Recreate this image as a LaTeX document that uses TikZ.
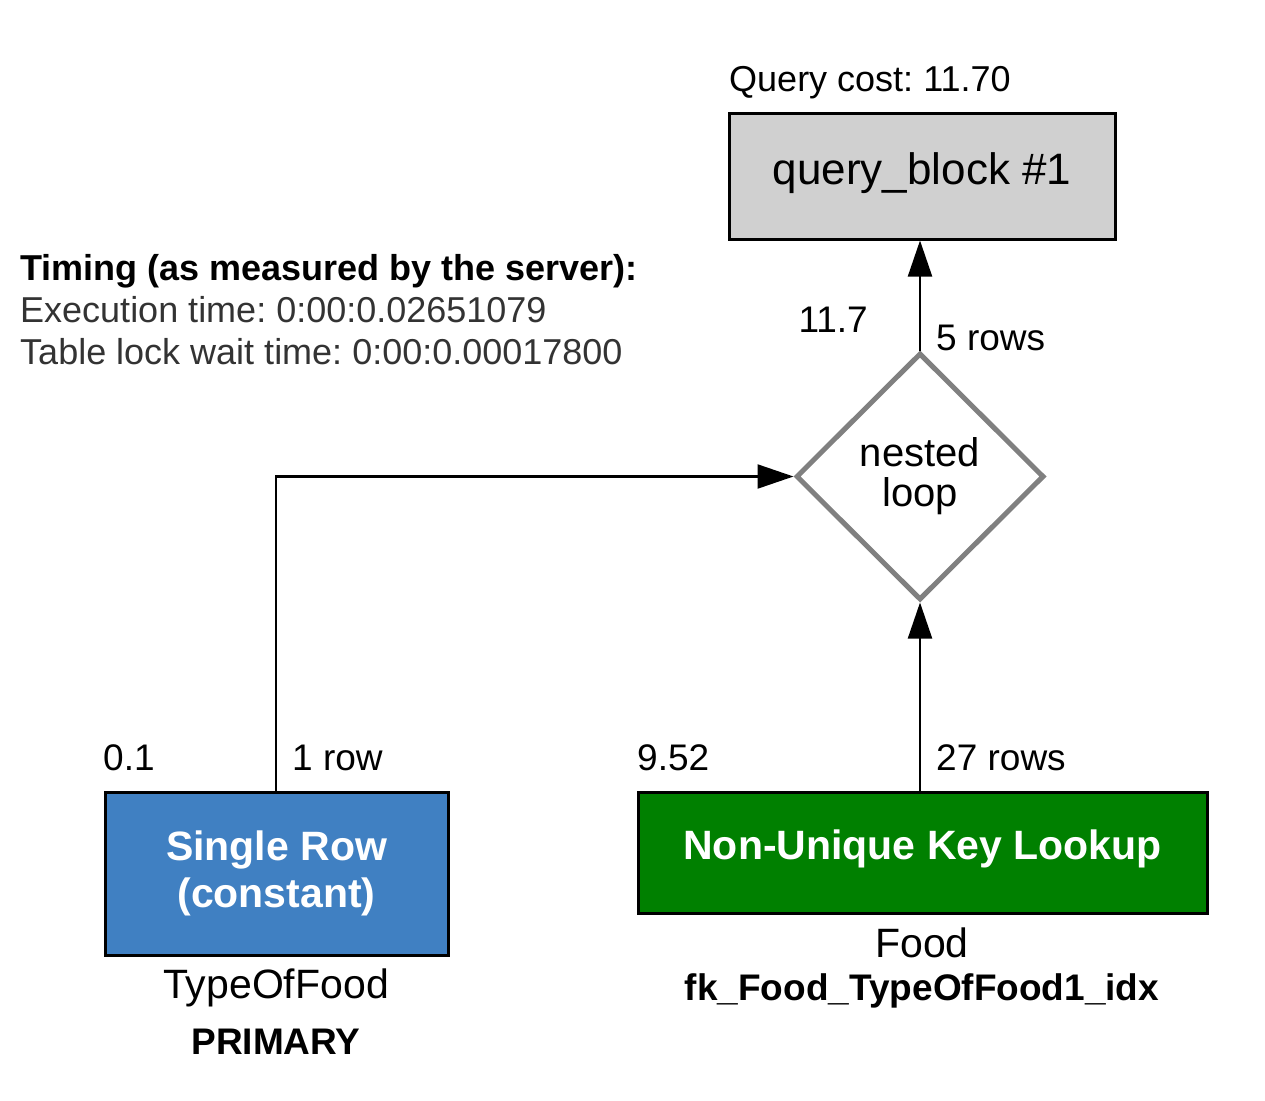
\documentclass[tikz,border=0pt]{standalone}
\usepackage{fontspec}
\setmainfont{Liberation Sans}
\frenchspacing
\usetikzlibrary{arrows.meta,shapes.geometric}
\newcommand{\pxfont}[1]{\fontsize{#1}{#1}\selectfont}
\tikzset{opbox/.style={draw=black,line width=3pt,inner sep=0pt,text=white,font=\pxfont{41}\bfseries,align=center}}
\tikzset{joinbox/.style={diamond,draw=loopgray,line width=5pt,inner sep=0pt,minimum width=248pt,minimum height=247pt,align=center,font=\pxfont{40}}}
\tikzset{conn/.style={line width=2.2pt,-{Triangle[length=36pt,width=24pt]}}}
\tikzset{lbl/.style={inner sep=0pt,font=\pxfont{37}}}
\definecolor{blockgray}{RGB}{208,208,208}
\definecolor{constblue}{RGB}{64,128,194}
\definecolor{refgreen}{RGB}{0,128,0}
\definecolor{loopgray}{RGB}{128,128,128}

\begin{document}
\begin{tikzpicture}[x=1pt,y=-1pt]
	    \useasboundingbox (0,0) rectangle (1265,1100);
	    % operations
	    \node[opbox,fill=blockgray,text=black,font=\pxfont{44},minimum width=386pt,minimum height=126pt] (qb) at (922,176) {\raisebox{14pt}{query\_block \#1}};
	    \node[joinbox] (nl) at (920,476.5) {nested\\[0pt]loop};
	    \node[opbox,fill=constblue,minimum width=343pt,minimum height=163pt] (sr) at (276.5,873.5) {Single Row\\[6pt](constant)};
	    \node[opbox,fill=refgreen,minimum width=569pt,minimum height=121pt] (nu) at (922.5,852.5) {\raisebox{16pt}{Non-Unique Key Lookup}};
	    % connectors
	    \draw[conn] (sr.north -| 276,0) |- (nl.west);
	    \draw[conn] (nl.south |- nu.north) -- (nl.south);
	    \draw[conn] (nl.north) -- (nl.north |- qb.south);
	    % costs and rows
	    \node[lbl,anchor=west] (cost) at (729,83) {\pxfont{36}Query cost: 11.70};
	    \node[lbl,anchor=east] (nlcost) at (868,320) {11.7};
	    \node[lbl,anchor=west] (nlrows) at (936,338) {5 rows};
	    \node[lbl,anchor=west] (srcost) at (103,758) {0.1};
	    \node[lbl,anchor=west] (srrows) at (292,758) {1 row};
	    \node[lbl,anchor=west] (nucost) at (637,758) {9.52};
	    \node[lbl,anchor=west] (nurows) at (936,758) {27 rows};
	    % tables and keys
	    \node[lbl,font=\pxfont{41}] (srtable) at (276,988) {TypeOfFood};
	    \node[lbl,font=\pxfont{37}\bfseries] (srkey) at (276,1042) {PRIMARY};
	    \node[lbl,font=\pxfont{41}] (nutable) at (922,943) {Food};
	    \node[lbl,font=\pxfont{37}\bfseries] (nukey) at (922,991) {fk\_Food\_TypeOfFood1\_idx};
	    % timing
	    \node[inner sep=0pt,anchor=north west,align=left,font=\fontsize{36}{42}\selectfont,text=black!80] (timing) at (20,254)
	        {\textbf{\color{black}Timing (as measured by the server):}\\Execution time: 0:00:0.02651079\\Table lock wait time: 0:00:0.00017800};
        \end{tikzpicture}
\end{document}
